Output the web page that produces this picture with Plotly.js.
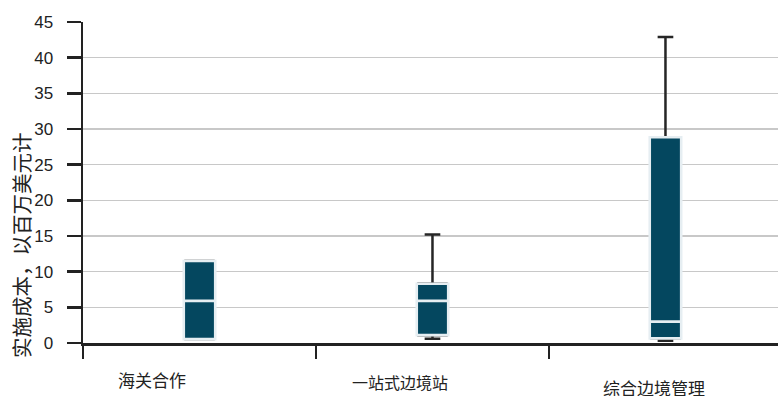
<!DOCTYPE html>
<html>
<head>
<meta charset="utf-8">
<script src="https://cdn.plot.ly/plotly-3.0.1.min.js"></script>
<style>html,body{margin:0;padding:0;background:#fff;}#chart{width:778px;height:396px;}</style>
</head>
<body>
<div id="chart"></div>
<script>
const categories = ["海关合作", "一站式边境站", "综合边境管理"];
const lowerWhisker = [0.55, 0.6, 0.3];
const q1 = [0.55, 1.1, 0.65];
const median = [5.9, 5.9, 3.0];
const q3 = [11.5, 8.3, 28.85];
const upperWhisker = [11.5, 15.2, 42.9];
const yTitle = "实施成本，以百万美元计";

const fill = "#04475f";
const font = "Liberation Sans, Arial, Noto Sans CJK SC, sans-serif";

const whiskers = {
  type: "box", x: categories, q1: q1, median: median, q3: q3,
  lowerfence: lowerWhisker, upperfence: upperWhisker,
  width: 0.12, whiskerwidth: 0.56,
  line: {color: "#262626", width: 2.5}, fillcolor: fill,
  hoverinfo: "skip", showlegend: false
};
const boxes = {
  type: "box", x: categories, q1: q1, median: median, q3: q3,
  lowerfence: q1, upperfence: q3,
  width: 0.135, whiskerwidth: 0,
  line: {color: "#e6eef2", width: 2.6}, fillcolor: fill,
  hoverinfo: "skip", showlegend: false
};

const labelPos = [[152, 380, 17], [400, 382, 16], [654, 388, 17]];
const annotations = categories.map((c, i) => ({
  text: c, xref: "paper", yref: "paper",
  x: (labelPos[i][0] - 83) / 695, y: (343 - labelPos[i][1]) / 321,
  xanchor: "center", yanchor: "middle", showarrow: false,
  font: {family: "Noto Sans CJK SC, sans-serif", size: labelPos[i][2], color: "#222"}
}));
annotations.push({
  text: yTitle, xref: "paper", yref: "paper",
  x: (21 - 83) / 695, y: (343 - 245) / 321, textangle: -90,
  xanchor: "center", yanchor: "middle", showarrow: false,
  font: {family: "Noto Sans CJK SC, sans-serif", size: 20.5, color: "#222"}
});

const layout = {
  width: 778, height: 396,
  margin: {l: 83, r: 0, t: 22, b: 53},
  paper_bgcolor: "#fff", plot_bgcolor: "#fff",
  boxmode: "overlay",
  font: {family: font, size: 16, color: "#222"},
  xaxis: {
    type: "category", range: [-0.5, 2.483],
    tickson: "boundaries", ticks: "outside", ticklen: 13, tickwidth: 2, tickcolor: "#222",
    showticklabels: false, showgrid: false, zeroline: false,
    showline: true, linecolor: "#222", linewidth: 2.5
  },
  yaxis: {
    range: [0, 45], dtick: 5, tick0: 0,
    ticks: "outside", ticklen: 14, tickwidth: 2.5, tickcolor: "#222",
    ticklabelstandoff: 10,
    showgrid: true, gridcolor: "#c8c8c8", gridwidth: 1.5,
    zeroline: false, showline: true, linecolor: "#222", linewidth: 2.5,
    tickfont: {family: font, size: 17, color: "#222"}
  },
  annotations: annotations
};

Plotly.newPlot("chart", [whiskers, boxes], layout, {staticPlot: true, displayModeBar: false});
</script>
</body>
</html>
